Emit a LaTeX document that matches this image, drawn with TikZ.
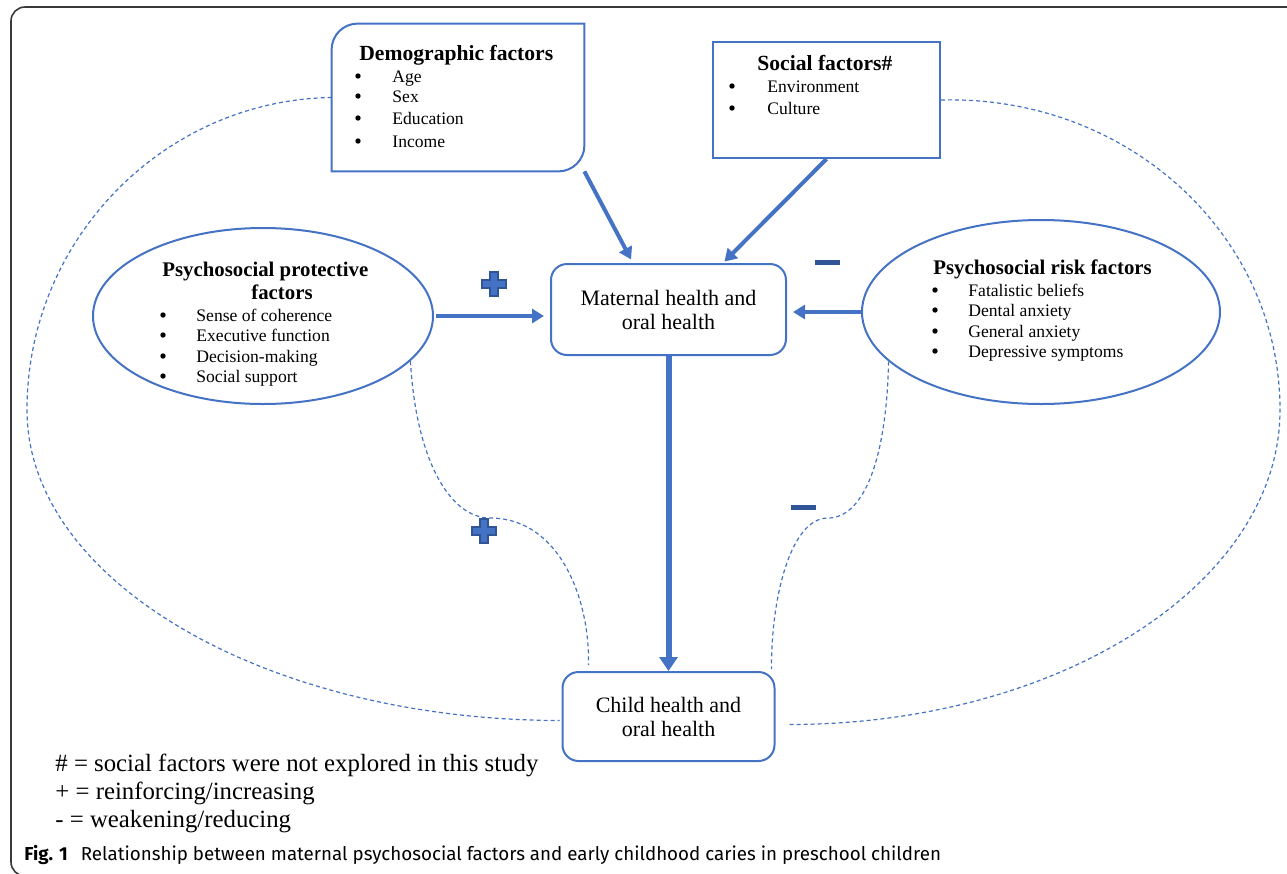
\documentclass[tikz,border=0pt]{standalone}
\usepackage{fontspec}
\setmainfont{Liberation Serif}
\newfontfamily\capfont{Fira Sans}
\usetikzlibrary{shapes.geometric,arrows.meta,calc}

\definecolor{lineblue}{HTML}{4472C4}
\definecolor{signblue}{HTML}{2F5597}
\definecolor{framegray}{HTML}{3A3A3A}

\tikzset{
    boxline/.style={draw=lineblue, line width=1pt},
    flow/.style={lineblue, line width=2pt, -{Triangle[length=6pt,width=7pt]}},
    link/.style={lineblue, line width=0.6pt, dash pattern=on 2pt off 1.5pt},
    headtxt/.style={anchor=base west, inner sep=0, font=\fontsize{10.8}{12}\selectfont\bfseries},
    itemtxt/.style={anchor=base west, inner sep=0, font=\fontsize{8.8}{10}\selectfont},
    dot/.style={circle, fill=black, inner sep=0, minimum size=2.7pt},
    legendtxt/.style={anchor=base west, inner sep=0, font=\fontsize{12.4}{14}\selectfont},
    plussign/.pic={
        \filldraw[fill=lineblue, draw=signblue, line width=0.7pt]
        (-12,-4) -- (-4,-4) -- (-4,-12) -- (4,-12) -- (4,-4) -- (12,-4)
        -- (12,4) -- (4,4) -- (4,12) -- (-4,12) -- (-4,4) -- (-12,4) -- cycle;
    }
}

\begin{document}
\begin{tikzpicture}[x=0.5pt, y=-0.5pt]
    \useasboundingbox (0,0) rectangle (1287,874);
    % frame
    \draw[framegray, line width=0.8pt, rounded corners=7pt] (1287,7) -- (11,7) -- (11,876) -- (40,876);

    % boxes
    \node[inner sep=0, minimum width=126pt, minimum height=73.5pt] (dem) at (458,97.5) {};
    \draw[boxline] (dem.south west) [rounded corners=13pt] -- (dem.north west) [sharp corners]
        -- (dem.north east) [rounded corners=13pt] -- (dem.south east) [sharp corners] -- cycle;
    \node[boxline, inner sep=0, minimum width=113.5pt, minimum height=58pt] (soc) at (826.5,100) {};
    \node[boxline, ellipse, inner sep=0, minimum width=170pt, minimum height=88pt] (prot) at (263,316) {};
    \node[boxline, ellipse, inner sep=0, minimum width=179pt, minimum height=92pt] (risk) at (1041,312) {};
    \node[boxline, rounded corners=8pt, minimum width=117.5pt, minimum height=45.5pt, align=center,
        font=\fontsize{11}{12}\selectfont] (mat) at (668.5,309.5) {Maternal health and\\oral health};
    \node[boxline, rounded corners=8pt, minimum width=106pt, minimum height=44.5pt, align=center,
        font=\fontsize{11}{12}\selectfont] (chi) at (668.5,716.5) {Child health and\\oral health};

    % texts in the boxes
    \node[headtxt] (demh) at (359,60) {Demographic factors};
    \foreach \yy/\txt [count=\i] in {82/Age,102/Sex,124/Education,147/Income} {
        \node[dot] (demb\i) at (358,\yy-6) {};
        \node[itemtxt] (demi\i) at (392,\yy) {\txt};
    }
    \node[headtxt] (soch) at (757,70) {Social factors\#};
    \foreach \yy/\txt [count=\i] in {92/Environment,114/Culture} {
        \node[dot] (socb\i) at (732,\yy-6) {};
        \node[itemtxt] (soci\i) at (767,\yy) {\txt};
    }
    \node[headtxt, font=\fontsize{10.4}{12}\selectfont\bfseries] (proth) at (162,276) {Psychosocial protective};
    \node[headtxt, font=\fontsize{10.4}{12}\selectfont\bfseries] (proth2) at (251,299) {factors};
    \foreach \yy/\txt [count=\i] in {321/Sense of coherence,341/Executive function,362/Decision-making,382/Social support} {
        \node[dot] (protb\i) at (163,\yy-6) {};
        \node[itemtxt] (proti\i) at (196,\yy) {\txt};
    }
    \node[headtxt, font=\fontsize{10.4}{12}\selectfont\bfseries] (riskh) at (933,274) {Psychosocial risk factors};
    \foreach \yy/\txt [count=\i] in {296/Fatalistic beliefs,316/Dental anxiety,337/General anxiety,357/Depressive symptoms} {
        \node[dot] (riskb\i) at (935,\yy-6) {};
        \node[itemtxt] (riski\i) at (968,\yy) {\txt};
    }

    % arrows
    \draw[flow, shorten >=2pt] (dem.south east) -- ($(mat.north west)!0.35!(mat.north east)$);
    \draw[flow, shorten >=1pt] (soc.south) -- ($(mat.north west)!0.73!(mat.north east)$);
    \draw[flow, shorten >=3pt, shorten <=1pt] (prot.east) -- (mat.west |- prot.east);
    \draw[flow, shorten >=3pt] (risk.west) -- (mat.east |- risk.west);
    \draw[lineblue, line width=3pt, -{Triangle[length=7pt,width=9pt]}] (mat.south) -- (chi.north);

    % dashed links
    \draw[link] (dem.west) .. controls (164,100) and (27,239) .. (27,410)
        .. controls (27,581) and (266,720) .. ([xshift=-1pt,yshift=-2pt]chi.west);
    \draw[link] (soc.east) .. controls (1128,95) and (1280,235) .. (1280,410)
        .. controls (1280,584) and (1059,725) .. ([xshift=6pt,yshift=-4pt]chi.east);
    \draw[link] (prot.-17) .. controls (416,460) and (450,518) .. (490,518)
        .. controls (560,518) and (590,600) .. ([xshift=13.5pt,yshift=3pt]chi.north west);
    \draw[link] (risk.198) .. controls (886,470) and (860,518) .. (828,518)
        .. controls (790,518) and (771,600) .. ([xshift=-2pt,yshift=1pt]chi.north east);

    % signs
    \pic at (494,284) {plussign};
    \pic at (484,531) {plussign};
    \fill[signblue] (815,260) rectangle (840,265);
    \fill[signblue] (791,505) rectangle (816,510);

    % legend and caption
    \node[legendtxt] (leg1) at (55,771) {\# = social factors were not explored in this study};
    \node[legendtxt] (leg2) at (55,799) {+ = reinforcing/increasing};
    \node[legendtxt] (leg3) at (55,827) {- = weakening/reducing};
    \node[anchor=base west, inner sep=0, font=\capfont\fontsize{9.38}{11}\selectfont] (cap) at (24,860)
        {\textbf{Fig. 1}\hspace{0.7em}Relationship between maternal psychosocial factors and early childhood caries in preschool children};
\end{tikzpicture}
\end{document}
